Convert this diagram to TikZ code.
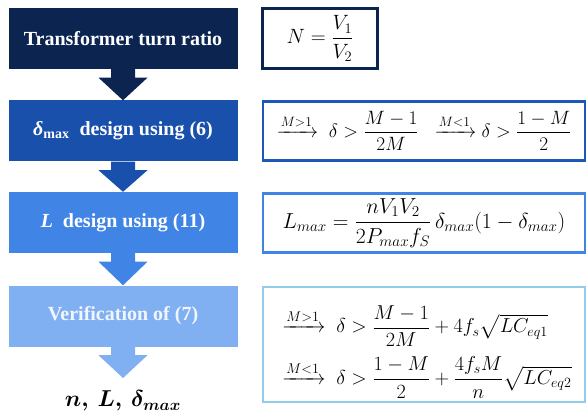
\RequirePackage{fix-cm}
\documentclass[tikz,border=0pt]{standalone}
\usepackage{amsmath,amssymb}
\usepackage{fontspec}
\setmainfont{Liberation Serif}
\newfontfamily\tiempos{Liberation Serif}
\usepackage{xcolor}
\usepackage{tikz}
\usetikzlibrary{calc}
\definecolor{AzulNoche}{RGB}{12,36,80}
\definecolor{AzulReal}{RGB}{24,80,172}
\definecolor{AzulMedio}{RGB}{64,132,230}
\definecolor{AzulClaro}{RGB}{128,176,242}
\definecolor{BordeClaro}{RGB}{146,204,234}
\definecolor{BordeReal}{RGB}{30,88,182}
\definecolor{TextoClaro}{RGB}{240,246,254}

\tikzset{
  paso/.style={fill=#1,text=white,minimum width=229pt,minimum height=61pt,inner sep=0pt,
    font=\tiempos\fontsize{20}{24}\selectfont\bfseries},
  ecuacion/.style={draw=#1,line width=2.6pt,fill=white,minimum width=322pt,inner sep=0pt,
    font=\fontsize{20.7}{24}\selectfont},
  resultado/.style={font=\fontsize{23}{27}\selectfont\boldmath}
}
% flecha gruesa bajo cada paso
\newcommand{\flechapaso}[3]{%
  \fill[#1] ($(#2.south)+(-12,0)$) -- ($(#2.south)+(12,0)$) -- ($(#2.south)+(12,8.5)$)
    -- ($(#2.south)+(24.5,8.5)$) -- (#3) -- ($(#2.south)+(-24.5,8.5)$)
    -- ($(#2.south)+(-12,8.5)$) -- cycle;}

\begin{document}
\begin{tikzpicture}[x=1pt,y=-1pt]
  \useasboundingbox (0,0) rectangle (587,417);

  % pasos
  \node[paso=AzulNoche] (p1) at (123,38.5) {Transformer turn ratio};
  \node[paso=AzulReal] (p2) at (123,131) {\textit{δ}\textsubscript{max}\ \ design using (6)};
  \node[paso=AzulMedio] (p3) at (123,222.5) {\textit{L}\ \ design using (11)};
  \node[paso=AzulClaro,text=TextoClaro] (p4) at (123,316) {Verification of (7)};
  \node[resultado] (res) at (123,401) {$n,\,L,\,\delta_{max}$};

  \coordinate (fin) at (123,378);
  \flechapaso{AzulNoche}{p1}{p2.north}
  \flechapaso{AzulReal}{p2}{p3.north}
  \flechapaso{AzulMedio}{p3}{p4.north}
  \flechapaso{AzulClaro}{p4}{fin}

  % ecuaciones
  \node[ecuacion=AzulNoche,minimum width=115pt,minimum height=60pt] (e1) at (320,38.5)
    {$N=\dfrac{V_1}{V_2}$};
  \node[ecuacion=BordeReal,minimum height=59pt,font=\fontsize{19.3}{23}\selectfont] (e2) at (424,131)
    {$\xrightarrow{M>1}\;\delta>\dfrac{M-1}{2M}\;\;\xrightarrow{M<1}\delta>\dfrac{1-M}{2}$};
  \node[ecuacion=AzulMedio,minimum height=59pt,font=\fontsize{21.7}{25}\selectfont] (e3) at (424,223)
    {$L_{max}=\dfrac{nV_1V_2}{2P_{max}f_S}\,\delta_{max}(1-\delta_{max})$};
  \node[ecuacion=BordeClaro,minimum height=115pt,font=\fontsize{20.2}{24}\selectfont] (e4) at (424,344.5)
    {\raisebox{-12.5pt}[0pt][0pt]{$\begin{aligned}
      &\xrightarrow{M>1}\ \delta>\dfrac{M-1}{2M}+4f_s\sqrt{LC_{eq1}}\\[6pt]
      &\xrightarrow{M<1}\ \delta>\dfrac{1-M}{2}+\dfrac{4f_sM}{n}\sqrt{LC_{eq2}}
    \end{aligned}$}};
\end{tikzpicture}
\end{document}
